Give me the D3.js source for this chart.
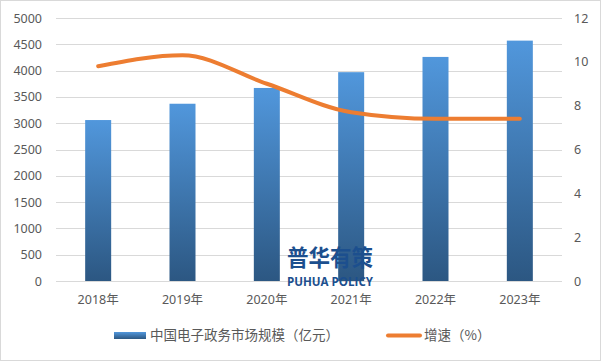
<!DOCTYPE html>
<html>
<head>
<meta charset="utf-8">
<script src="https://cdn.jsdelivr.net/npm/d3@7"></script>
<style>
  body { margin: 0; background: #fff; }
  text { font-family: "Noto Sans", "Noto Sans CJK SC", sans-serif; }
</style>
</head>
<body>
<div id="graph1"></div>
<script>
// chart data
var years = ["2018年", "2019年", "2020年", "2021年", "2022年", "2023年"]
var scale = [3060, 3370, 3670, 3970, 4260, 4570]   // 市场规模（亿元）
var growth = [9.8, 10.3, 9.0, 7.7, 7.4, 7.4]       // 增速（%）
var leftTicks = [0, 500, 1000, 1500, 2000, 2500, 3000, 3500, 4000, 4500, 5000]
var rightTicks = [0, 2, 4, 6, 8, 10, 12]

var width = 601,
    height = 361,
    plotL = 56, plotR = 562, plotT = 18, plotB = 281

var svg = d3.select("#graph1")
  .append("svg")
    .attr("width", width)
    .attr("height", height)

// outer frame
svg.append("rect")
  .attr("x", 0.5).attr("y", 0.5)
  .attr("width", width - 1).attr("height", height - 1)
  .attr("fill", "#fff")
  .attr("stroke", "#d9d9d9")

var defs = svg.append("defs")
var grad = defs.append("linearGradient")
  .attr("id", "barGrad")
  .attr("x1", 0).attr("y1", 0).attr("x2", 0).attr("y2", 1)
grad.append("stop").attr("offset", "0%").attr("stop-color", "#5197dc")
grad.append("stop").attr("offset", "100%").attr("stop-color", "#2c5782")

var x = d3.scaleBand().domain(years).range([plotL, plotR]).paddingInner(0).paddingOuter(0)
var y = d3.scaleLinear().domain([0, 5000]).range([plotB, plotT])
var y2 = d3.scaleLinear().domain([0, 12]).range([plotB, plotT])

// gridlines
svg.append("g")
  .selectAll("line")
  .data(leftTicks)
  .join("line")
    .attr("x1", plotL).attr("x2", plotR)
    .attr("y1", d => Math.round(y(d)) + 0.5)
    .attr("y2", d => Math.round(y(d)) + 0.5)
    .attr("stroke", "#d9d9d9")
    .attr("stroke-width", 1)

// left axis
var yAxis = svg.append("g")
  .attr("transform", "translate(" + plotL + ",0)")
  .call(d3.axisLeft(y).tickValues(leftTicks).tickSize(0).tickPadding(14).tickFormat(d3.format("d")))
yAxis.select(".domain").remove()
yAxis.selectAll("text").attr("fill", "#595959").attr("font-size", 12.5)

// right axis
var yAxis2 = svg.append("g")
  .attr("transform", "translate(" + plotR + ",0)")
  .call(d3.axisRight(y2).tickValues(rightTicks).tickSize(0).tickPadding(12))
yAxis2.select(".domain").remove()
yAxis2.selectAll("text").attr("fill", "#595959").attr("font-size", 12.5)

// x axis
var xAxis = svg.append("g")
  .attr("transform", "translate(0," + plotB + ")")
  .call(d3.axisBottom(x).tickSize(0).tickPadding(14))
xAxis.select(".domain").remove()
xAxis.selectAll("text").attr("fill", "#595959").attr("font-size", 12.5)

// bars
var barW = 26
svg.append("g")
  .selectAll("rect")
  .data(scale)
  .join("rect")
    .attr("x", (d, i) => x(years[i]) + x.bandwidth() / 2 - barW / 2)
    .attr("y", d => y(d))
    .attr("width", barW)
    .attr("height", d => y(0) - y(d))
    .attr("fill", "url(#barGrad)")

// watermark
var wm = svg.append("g")
wm.append("text")
  .attr("x", 330).attr("y", 266)
  .attr("text-anchor", "middle")
  .attr("font-size", 23)
  .attr("font-weight", "bold")
  .attr("fill", "#1c4f8e")
  .attr("textLength", 86)
  .attr("lengthAdjust", "spacingAndGlyphs")
  .style("font-family", "'Noto Sans CJK SC', sans-serif")
  .text("普华有策")
wm.append("text")
  .attr("x", 330).attr("y", 286)
  .attr("text-anchor", "middle")
  .attr("font-size", 12.5)
  .attr("font-weight", "bold")
  .attr("fill", "#1c4f8e")
  .attr("textLength", 86)
  .attr("lengthAdjust", "spacingAndGlyphs")
  .style("font-family", "'Open Sans', sans-serif")
  .text("PUHUA POLICY")

// growth line (smoothed, no overshoot)
var line = d3.line()
  .x((d, i) => x(years[i]) + x.bandwidth() / 2)
  .y(d => y2(d))
  .curve(d3.curveMonotoneX)

svg.append("path")
  .datum(growth)
  .attr("d", line)
  .attr("fill", "none")
  .attr("stroke", "#ed7d31")
  .attr("stroke-width", 4)
  .attr("stroke-linecap", "round")

// legend
var lg = svg.append("g")
lg.append("rect")
  .attr("x", 114).attr("y", 332)
  .attr("width", 32).attr("height", 7)
  .attr("fill", "url(#barGrad)")
lg.append("text")
  .attr("x", 150).attr("y", 340)
  .attr("font-size", 13.5)
  .attr("fill", "#595959")
  .style("font-family", "'Noto Sans CJK SC', sans-serif")
  .text("中国电子政务市场规模（亿元）")
lg.append("line")
  .attr("x1", 388).attr("x2", 420)
  .attr("y1", 335.5).attr("y2", 335.5)
  .attr("stroke", "#ed7d31")
  .attr("stroke-width", 4)
  .attr("stroke-linecap", "round")
lg.append("text")
  .attr("x", 424).attr("y", 340)
  .attr("font-size", 13.5)
  .attr("fill", "#595959")
  .style("font-family", "'Noto Sans CJK SC', sans-serif")
  .text("增速（%）")
</script>
</body>
</html>
